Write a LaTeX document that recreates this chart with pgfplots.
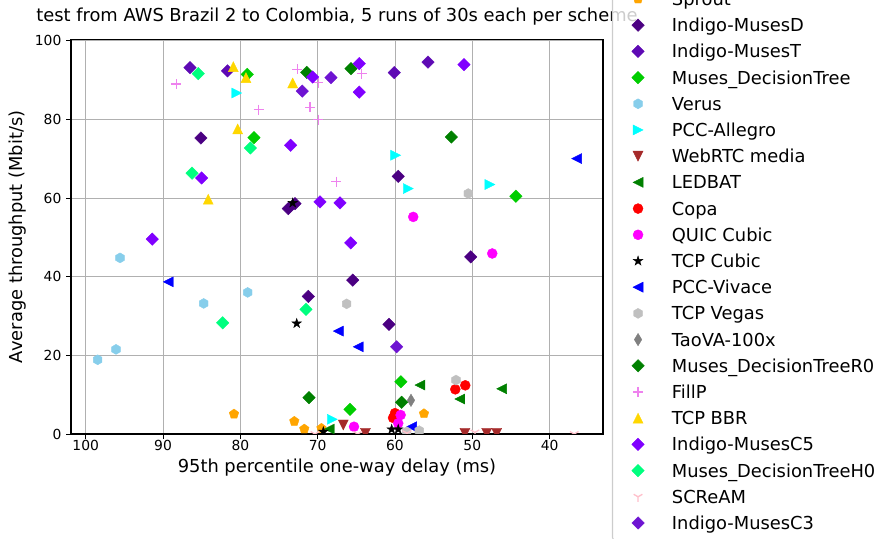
\documentclass[border=0pt]{standalone}
\usepackage{fontspec}
\setmainfont{DejaVu Sans}
\usepackage{pgfplots}
\pgfplotsset{compat=1.18}
\usetikzlibrary{plotmarks}

% matplotlib-like marks
\pgfdeclareplotmark{mtri}{%
  \pgfpathmoveto{\pgfqpoint{0pt}{\pgfplotmarksize}}%
  \pgfpathlineto{\pgfqpoint{-\pgfplotmarksize}{-\pgfplotmarksize}}%
  \pgfpathlineto{\pgfqpoint{\pgfplotmarksize}{-\pgfplotmarksize}}%
  \pgfpathclose\pgfusepathqfillstroke}
\pgfdeclareplotmark{mhex}{%
  \pgfpathmoveto{\pgfpointpolar{90}{\pgfplotmarksize}}%
  \pgfpathlineto{\pgfpointpolar{150}{\pgfplotmarksize}}%
  \pgfpathlineto{\pgfpointpolar{210}{\pgfplotmarksize}}%
  \pgfpathlineto{\pgfpointpolar{270}{\pgfplotmarksize}}%
  \pgfpathlineto{\pgfpointpolar{330}{\pgfplotmarksize}}%
  \pgfpathlineto{\pgfpointpolar{30}{\pgfplotmarksize}}%
  \pgfpathclose\pgfusepathqfillstroke}
\pgfdeclareplotmark{mstar}{%
  \pgfpathmoveto{\pgfpointpolar{90}{\pgfplotmarksize}}%
  \pgfpathlineto{\pgfpointpolar{126}{0.382\pgfplotmarksize}}%
  \pgfpathlineto{\pgfpointpolar{162}{\pgfplotmarksize}}%
  \pgfpathlineto{\pgfpointpolar{198}{0.382\pgfplotmarksize}}%
  \pgfpathlineto{\pgfpointpolar{234}{\pgfplotmarksize}}%
  \pgfpathlineto{\pgfpointpolar{270}{0.382\pgfplotmarksize}}%
  \pgfpathlineto{\pgfpointpolar{306}{\pgfplotmarksize}}%
  \pgfpathlineto{\pgfpointpolar{342}{0.382\pgfplotmarksize}}%
  \pgfpathlineto{\pgfpointpolar{18}{\pgfplotmarksize}}%
  \pgfpathlineto{\pgfpointpolar{54}{0.382\pgfplotmarksize}}%
  \pgfpathclose\pgfusepathqfillstroke}

\definecolor{csprout}{RGB}{255,165,0}
\definecolor{cmd}{RGB}{75,0,130}
\definecolor{cmt}{RGB}{94,10,180}
\definecolor{cdt}{RGB}{0,205,0}
\definecolor{cverus}{RGB}{135,206,235}
\definecolor{callegro}{RGB}{0,255,255}
\definecolor{cwebrtc}{RGB}{165,42,42}
\definecolor{cledbat}{RGB}{0,128,0}
\definecolor{ccopa}{RGB}{255,0,0}
\definecolor{cquic}{RGB}{255,0,255}
\definecolor{cvivace}{RGB}{0,0,255}
\definecolor{cvegas}{RGB}{192,192,192}
\definecolor{ctao}{RGB}{128,128,128}
\definecolor{cr0}{RGB}{0,128,0}
\definecolor{cfillp}{RGB}{238,130,238}
\definecolor{cbbr}{RGB}{255,215,0}
\definecolor{cc5}{RGB}{128,0,255}
\definecolor{ch0}{RGB}{0,255,127}
\definecolor{cscream}{RGB}{255,192,203}
\definecolor{cc3}{RGB}{110,20,210}

\pgfplotsset{
  mk/.style={only marks, color=#1, mark size=3.75pt, mark options={solid, line width=0.3pt}},
  dia/.style={mk=#1, mark=square*, mark size=3.3pt, every mark/.append style={rotate=45}},
}

\begin{document}
\begin{tikzpicture}
\begin{axis}[
  at={(53.25pt,78.75pt)}, anchor=south west,
  scale only axis, width=399pt, height=295.9pt,
  x dir=reverse,
  xmin=33.1, xmax=101.9, ymin=0, ymax=100.3,
  xtick={40,50,...,100}, ytick={0,20,...,100},
  tick pos=left, tick align=outside, major tick length=3.7pt,
  tick style={black, line width=0.6pt},
  grid=major, major grid style={color=black!31, line width=0.6pt},
  axis line style={black, line width=0.8pt},
  tick label style={font=\fontsize{10.4}{12}\selectfont},
  xticklabel style={yshift=2.5pt},
  /pgf/number format/assume math mode=true,
  title={test from AWS Brazil 2 to Colombia, 5 runs of 30s each per scheme},
  every axis title/.style={at={(0.5,1)}, anchor=base, yshift=13.1pt, font=\fontsize{13.4}{16}\selectfont},
  xlabel={95th percentile one-way delay (ms)},
  ylabel={Average throughput (Mbit/s)},
  every axis x label/.style={at={(axis description cs:0.5,0)}, anchor=center, yshift=-25pt, font=\fontsize{13.4}{16}\selectfont},
  every axis y label/.style={at={(axis description cs:-0.0996,0.5)}, rotate=90, anchor=center, font=\fontsize{13.4}{16}\selectfont},
  clip marker paths=true,
  legend cell align=left,
  legend image code/.code={\path (0pt,0pt) (37pt,0pt); \draw[#1, opacity=1] plot coordinates {(14pt,0pt)};},
  legend style={at={(axis description cs:1.0169,1.1473)}, anchor=north west,
    draw=black!20, line width=0.8pt, rounded corners=2pt,
    fill=white, fill opacity=0.8, text opacity=1,
    inner xsep=4.75pt, inner ysep=3pt, row sep=0pt, column sep=0pt,
    font=\fontsize{13.4}{16}\selectfont,
    nodes={inner xsep=2pt, inner ysep=0pt, text height=14.7pt, text depth=4.95pt}},
]
\addplot[mk=csprout, mark=pentagon*] coordinates {(80.82,5.08) (73.02,3.23) (71.73,1.27) (69.51,1.45) (56.25,5.16)};
\addlegendentry{Sprout}
\addplot[dia=cmd] coordinates {(85.09,75.25) (59.58,65.52) (65.47,39.11) (60.78,27.86) (71.21,34.97) (73.80,57.32) (72.93,58.59) (50.21,45.03)};
\addlegendentry{Indigo-MusesD}
\addplot[dia=cmt] coordinates {(86.51,93.13) (81.66,92.32) (60.09,91.86) (55.73,94.55)};
\addlegendentry{Indigo-MusesT}
\addplot[dia=cdt] coordinates {(79.10,91.43) (78.24,75.35) (65.82,6.27) (59.23,13.28) (44.36,60.44)};
\addlegendentry{Muses\_DecisionTree}
\addplot[mk=cverus, mark=mhex] coordinates {(95.56,44.77) (84.74,33.19) (79.05,35.99) (96.08,21.51) (98.45,18.87)};
\addlegendentry{Verus}
\addplot[mk=callegro, mark=mtri, every mark/.append style={rotate=-90}] coordinates {(80.47,86.68) (59.91,70.86) (58.28,62.40) (47.72,63.42) (68.11,3.73)};
\addlegendentry{PCC-Allegro}
\addplot[mk=cwebrtc, mark=mtri, every mark/.append style={rotate=180}] coordinates {(66.69,2.29) (63.82,0.18) (50.95,0.18) (48.14,0.18) (46.85,0.18)};
\addlegendentry{WebRTC media}
\addplot[mk=cledbat, mark=mtri, every mark/.append style={rotate=90}] coordinates {(68.50,1.27) (56.77,12.44) (51.62,8.89) (46.20,11.50)};
\addlegendentry{LEDBAT}
\addplot[mk=ccopa, mark=*] coordinates {(50.91,12.37) (52.20,11.35) (60.00,5.30) (60.25,4.10)};
\addlegendentry{Copa}
\addplot[mk=cquic, mark=*] coordinates {(57.64,55.19) (47.42,45.89) (59.27,4.83) (59.58,2.72) (65.30,1.85)};
\addlegendentry{QUIC Cubic}
\addplot[mk=black, mark=mstar] coordinates {(73.23,58.74) (72.71,28.11) (69.27,0.58) (60.43,1.19) (59.58,1.19)};
\addlegendentry{TCP Cubic}
\addplot[mk=cvivace, mark=mtri, every mark/.append style={rotate=90}] coordinates {(89.32,38.68) (67.33,26.16) (64.75,22.17) (36.51,70.02) (57.84,1.85)};
\addlegendentry{PCC-Vivace}
\addplot[mk=cvegas, mark=mhex] coordinates {(66.25,33.09) (50.52,61.13) (52.11,13.71) (58.49,0.58) (56.86,0.84)};
\addlegendentry{TCP Vegas}
\addplot[mk=ctao, mark=diamond*, mark size=4.65pt, every mark/.append style={xscale=0.8}] coordinates {(57.93,8.56)};
\addlegendentry{TaoVA-100x}
\addplot[dia=cr0] coordinates {(71.42,91.94) (65.69,92.88) (52.72,75.50) (71.12,9.27) (59.14,8.05)};
\addlegendentry{Muses\_DecisionTreeR0}
\addplot[mk=cfillp, mark=+, every mark/.append style={line width=1pt}] coordinates {(88.26,88.94) (77.65,82.46) (72.61,92.70) (69.92,89.32) (70.99,83.05) (69.92,79.92) (64.33,91.60) (67.57,64.13)};
\addlegendentry{FillP}
\addplot[mk=cbbr, mark=mtri] coordinates {(80.91,93.38) (79.27,90.59) (73.23,89.22) (80.34,77.54) (84.15,59.68)};
\addlegendentry{TCP BBR}
\addplot[dia=cc5] coordinates {(70.65,90.74) (64.62,94.15) (64.62,86.93) (51.08,93.89) (73.49,73.40) (85.00,65.09) (91.39,49.52) (65.73,48.58) (69.70,59.00) (67.11,58.74)};
\addlegendentry{Indigo-MusesC5}
\addplot[dia=ch0] coordinates {(85.44,91.60) (78.71,72.71) (86.25,66.29) (82.28,28.27) (71.51,31.67)};
\addlegendentry{Muses\_DecisionTreeH0}
\addplot[mk=cscream, mark=Mercedes star flipped, every mark/.append style={line width=1pt}] coordinates {(70.35,0) (64.83,0) (49.66,0.4) (36.82,0) (58.45,0.2)};
\addlegendentry{SCReAM}
\addplot[dia=cc3] coordinates {(68.28,90.59) (71.99,87.19) (59.78,22.17)};
\addlegendentry{Indigo-MusesC3}
\end{axis}
\pgfresetboundingbox
\useasboundingbox (0,0) rectangle (662.25pt,404.25pt);
\end{tikzpicture}
\end{document}
